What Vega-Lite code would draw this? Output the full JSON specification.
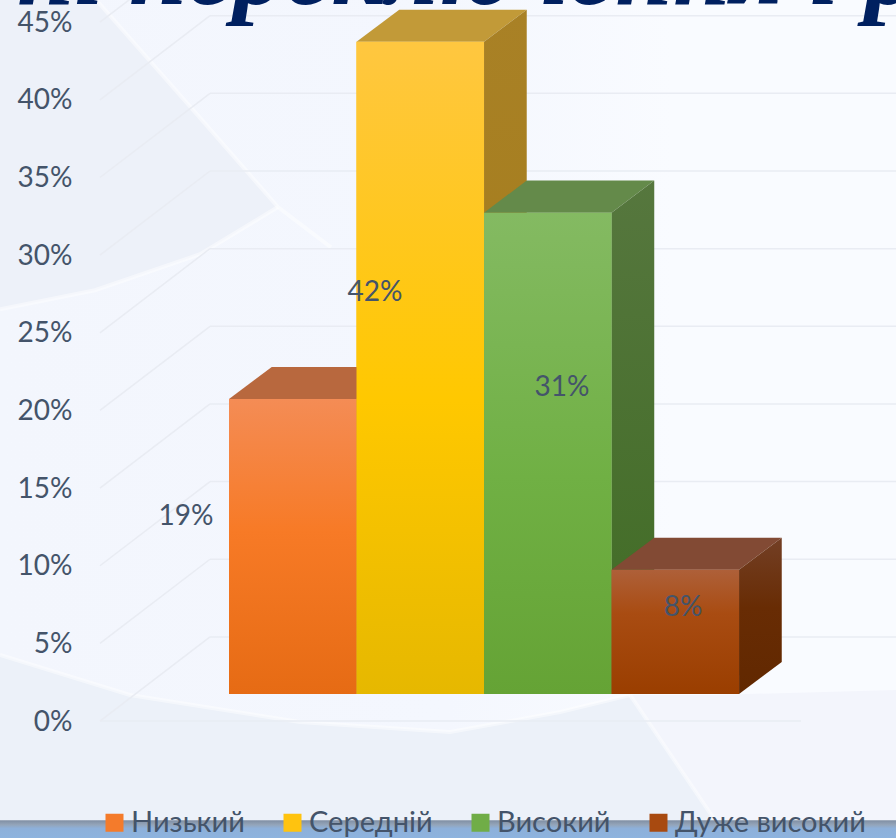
{"$schema":"https://vega.github.io/schema/vega-lite/v6.json","width":896,"height":838,"padding":0,"autosize":{"type":"none"},"background":"#F4F7FE","config":{"view":{"stroke":null},"font":"Lato"},
"datasets":{
"bars":[{"series":"Низький","pos":0,"end":1,"value":19,"base":0},{"series":"Середній","pos":1,"end":2,"value":42,"base":0},{"series":"Високий","pos":2,"end":3,"value":31,"base":0},{"series":"Дуже високий","pos":3,"end":4,"value":8,"base":0}],
"faces":[
{"series":"Низький","face":"side","pos":1,"value":19,"base":0},{"series":"Низький","face":"side","pos":1.335,"value":21.065,"base":2.065},
{"series":"Низький","face":"top","pos":0,"value":19,"base":19},{"series":"Низький","face":"top","pos":0.335,"value":21.065,"base":19},{"series":"Низький","face":"top","pos":1,"value":21.065,"base":19},{"series":"Низький","face":"top","pos":1.335,"value":21.065,"base":21.065},
{"series":"Середній","face":"side","pos":2,"value":42,"base":0},{"series":"Середній","face":"side","pos":2.335,"value":44.065,"base":2.065},
{"series":"Середній","face":"top","pos":1,"value":42,"base":42},{"series":"Середній","face":"top","pos":1.335,"value":44.065,"base":42},{"series":"Середній","face":"top","pos":2,"value":44.065,"base":42},{"series":"Середній","face":"top","pos":2.335,"value":44.065,"base":44.065},
{"series":"Високий","face":"side","pos":3,"value":31,"base":0},{"series":"Високий","face":"side","pos":3.335,"value":33.065,"base":2.065},
{"series":"Високий","face":"top","pos":2,"value":31,"base":31},{"series":"Високий","face":"top","pos":2.335,"value":33.065,"base":31},{"series":"Високий","face":"top","pos":3,"value":33.065,"base":31},{"series":"Високий","face":"top","pos":3.335,"value":33.065,"base":33.065},
{"series":"Дуже високий","face":"side","pos":4,"value":8,"base":0},{"series":"Дуже високий","face":"side","pos":4.335,"value":10.065,"base":2.065},
{"series":"Дуже високий","face":"top","pos":3,"value":8,"base":8},{"series":"Дуже високий","face":"top","pos":3.335,"value":10.065,"base":8},{"series":"Дуже високий","face":"top","pos":4,"value":10.065,"base":8},{"series":"Дуже високий","face":"top","pos":4.335,"value":10.065,"base":10.065}],
"grid":[
{"pos":-0.149,"end":5.231,"value":5.42,"base":5.42},{"pos":-0.149,"end":5.231,"value":10.42,"base":10.42},{"pos":-0.149,"end":5.231,"value":15.42,"base":15.42},{"pos":-0.149,"end":5.231,"value":20.42,"base":20.42},{"pos":-0.149,"end":5.231,"value":25.42,"base":25.42},{"pos":-0.149,"end":5.231,"value":30.42,"base":30.42},{"pos":-0.149,"end":5.231,"value":35.42,"base":35.42},{"pos":-0.149,"end":5.231,"value":40.42,"base":40.42},{"pos":-0.149,"end":5.231,"value":45.42,"base":45.42},
{"pos":-1.012,"end":-0.149,"value":0,"base":5.42},{"pos":-1.012,"end":-0.149,"value":5,"base":10.42},{"pos":-1.012,"end":-0.149,"value":10,"base":15.42},{"pos":-1.012,"end":-0.149,"value":15,"base":20.42},{"pos":-1.012,"end":-0.149,"value":20,"base":25.42},{"pos":-1.012,"end":-0.149,"value":25,"base":30.42},{"pos":-1.012,"end":-0.149,"value":30,"base":35.42},{"pos":-1.012,"end":-0.149,"value":35,"base":40.42},{"pos":-1.012,"end":-0.149,"value":40,"base":45.42},{"pos":-1.012,"end":-0.149,"value":45,"base":50.42},
{"pos":-1.012,"end":4.486,"value":0,"base":0}],
"bg":[
{"shape":"a","pos":-1.796,"value":46.52,"base":26.52},{"shape":"a","pos":-1.051,"value":46.52,"base":27.74},{"shape":"a","pos":-0.227,"value":38.84,"base":30.06},{"shape":"a","pos":0.384,"value":33.1,"base":33.1},
{"shape":"b","pos":-1.796,"value":4.26,"base":-6.39},{"shape":"b","pos":-0.776,"value":1.68,"base":-6.39},{"shape":"b","pos":0.557,"value":-0.06,"base":-6.39},{"shape":"b","pos":1.733,"value":-0.71,"base":-6.39},{"shape":"b","pos":2.596,"value":0.58,"base":-6.39},{"shape":"b","pos":3.145,"value":1.68,"base":-6.39},{"shape":"b","pos":3.812,"value":-6.39,"base":-6.39},
{"shape":"c","pos":3.145,"value":1.68,"base":1.68},{"shape":"c","pos":3.812,"value":1.68,"base":-6.39},{"shape":"c","pos":5.231,"value":2,"base":-6.39}],
"streaks":[
{"streak":"a","pos":-1.796,"value":26.52},{"streak":"a","pos":-1.051,"value":27.74},{"streak":"a","pos":-0.227,"value":30.06},{"streak":"a","pos":0.384,"value":33.1},
{"streak":"d","pos":-1.051,"value":46.52},{"streak":"d","pos":-0.227,"value":38.84},{"streak":"d","pos":0.384,"value":33.1},{"streak":"d","pos":0.8,"value":30.5},
{"streak":"b","pos":-1.796,"value":4.26},{"streak":"b","pos":-0.776,"value":1.68},{"streak":"b","pos":0.557,"value":-0.06},{"streak":"b","pos":1.733,"value":-0.71},{"streak":"b","pos":2.596,"value":0.58},{"streak":"b","pos":3.145,"value":1.68},
{"streak":"e","pos":3.145,"value":1.68},{"streak":"e","pos":3.812,"value":-6.39}],
"panels":[{"panel":"page","pos":-1.796,"end":5.231,"value":46.52,"base":-7.55},{"panel":"strip","pos":-1.796,"end":5.231,"value":-6.39,"base":-7.55}],
"labels":[{"label":"19%","pos":-0.337,"value":13.16},{"label":"42%","pos":1.145,"value":27.55},{"label":"31%","pos":2.612,"value":21.42},{"label":"8%","pos":3.561,"value":7.29}],
"heading":[{"label":"ні переключення і р","pos":-1.667,"value":46.17}]
},
"encoding":{
"x":{"field":"pos","type":"quantitative","scale":{"domain":[-1.796,5.231],"nice":false,"zero":false},"axis":null},
"y":{"field":"value","type":"quantitative","scale":{"domain":[-7.53,46.43],"nice":false,"zero":false},"axis":{"title":null,"values":[0,5,10,15,20,25,30,35,40,45],"labelExpr":"datum.value+'%'","offset":-80,"labelPadding":8,"domain":false,"ticks":false,"grid":false,"labelFont":"Lato","labelFontSize":28,"labelColor":"#44546A","labelOffset":1,"zindex":1}}},
"layer":[
{"data":{"name":"panels"},"transform":[{"filter":"datum.panel=='page'"}],"mark":{"type":"rect","fill":{"x1":0,"y1":0,"x2":1,"y2":0,"gradient":"linear","stops":[{"offset":0,"color":"#F3F6FD"},{"offset":0.5,"color":"#F4F7FE"},{"offset":0.75,"color":"#F9FBFF"},{"offset":1,"color":"#F9FBFF"}]}},"encoding":{"x2":{"field":"end"},"y2":{"field":"base"}}},
{"data":{"name":"bg"},"transform":[{"filter":"datum.shape=='a'"}],"mark":{"type":"area","orient":"vertical","fill":"#EDF1F9"},"encoding":{"y2":{"field":"base"}}},
{"data":{"name":"bg"},"transform":[{"filter":"datum.shape=='b'"}],"mark":{"type":"area","orient":"vertical","fill":"#ECF1F9"},"encoding":{"y2":{"field":"base"}}},
{"data":{"name":"bg"},"transform":[{"filter":"datum.shape=='c'"}],"mark":{"type":"area","orient":"vertical","fill":"#F3F5FC"},"encoding":{"y2":{"field":"base"}}},
{"data":{"name":"streaks"},"mark":{"type":"line","stroke":"#FFFFFF","strokeWidth":4,"opacity":0.45},"encoding":{"detail":{"field":"streak"},"order":{"field":"pos"}}},
{"data":{"name":"panels"},"transform":[{"filter":"datum.panel=='strip'"}],"mark":{"type":"rect","fill":{"x1":0,"y1":0,"x2":0,"y2":1,"gradient":"linear","stops":[{"offset":0,"color":"#7F8EA3"},{"offset":0.25,"color":"#94A5BA"},{"offset":0.45,"color":"#8DB0DA"},{"offset":1,"color":"#8DB3DE"}]}},"encoding":{"x2":{"field":"end"},"y2":{"field":"base"}}},
{"data":{"name":"grid"},"mark":{"type":"rule","stroke":"#E9ECF3","strokeWidth":1.5},"encoding":{"x2":{"field":"end"},"y2":{"field":"base"}}},
{"data":{"name":"heading"},"mark":{"type":"text","align":"left","baseline":"alphabetic","font":"Liberation Serif","fontStyle":"italic","fontWeight":"bold","fontSize":104,"fill":"#002060"},"encoding":{"text":{"field":"label"}}},
{"data":{"name":"bars"},"mark":{"type":"rect","yOffset":-27,"y2Offset":-27},"encoding":{"x2":{"field":"end"},"y2":{"field":"base"},"color":{"field":"series","type":"nominal","scale":{"domain":["Низький","Середній","Високий","Дуже високий"],"range":["#F47B2B","#FFC30F","#70AD47","#A84A10"]},"legend":{"title":null,"orient":"none","legendX":100,"legendY":808,"direction":"horizontal","columns":4,"symbolType":"square","symbolSize":324,"symbolStrokeWidth":0,"labelFont":"Lato","labelFontSize":29,"labelLimit":400,"labelColor":"#44546A","labelOffset":2,"columnPadding":33,"symbolOffset":0}}}},

{"data":{"name":"faces"},"transform":[{"filter":"datum.series=='Низький'&&datum.face=='top'"}],"mark":{"type":"area","orient":"vertical","yOffset":-27,"y2Offset":-27,"fill":"#B8683E"},"encoding":{"y2":{"field":"base"}}},
{"data":{"name":"faces"},"transform":[{"filter":"datum.series=='Низький'&&datum.face=='side'"}],"mark":{"type":"area","orient":"vertical","yOffset":-27,"y2Offset":-27,"fill":"#A85A2C"},"encoding":{"y2":{"field":"base"}}},
{"data":{"name":"bars"},"transform":[{"filter":"datum.series=='Низький'"}],"mark":{"type":"rect","yOffset":-27,"y2Offset":-27,"fill":{"x1":0,"y1":0,"x2":0,"y2":1,"gradient":"linear","stops":[{"offset":0,"color":"#F48C55"},{"offset":0.45,"color":"#F77A26"},{"offset":1,"color":"#E66B14"}]}},"encoding":{"x2":{"field":"end"},"y2":{"field":"base"}}},

{"data":{"name":"faces"},"transform":[{"filter":"datum.series=='Середній'&&datum.face=='top'"}],"mark":{"type":"area","orient":"vertical","yOffset":-27,"y2Offset":-27,"fill":"#C29A38"},"encoding":{"y2":{"field":"base"}}},
{"data":{"name":"faces"},"transform":[{"filter":"datum.series=='Середній'&&datum.face=='side'"}],"mark":{"type":"area","orient":"vertical","yOffset":-27,"y2Offset":-27,"fill":{"x1":0,"y1":0,"x2":0,"y2":1,"gradient":"linear","stops":[{"offset":0,"color":"#A98126"},{"offset":1,"color":"#A17A14"}]}},"encoding":{"y2":{"field":"base"}}},
{"data":{"name":"bars"},"transform":[{"filter":"datum.series=='Середній'"}],"mark":{"type":"rect","yOffset":-27,"y2Offset":-27,"fill":{"x1":0,"y1":0,"x2":0,"y2":1,"gradient":"linear","stops":[{"offset":0,"color":"#FFC740"},{"offset":0.55,"color":"#FFC800"},{"offset":1,"color":"#E6B800"}]}},"encoding":{"x2":{"field":"end"},"y2":{"field":"base"}}},

{"data":{"name":"faces"},"transform":[{"filter":"datum.series=='Високий'&&datum.face=='top'"}],"mark":{"type":"area","orient":"vertical","yOffset":-27,"y2Offset":-27,"fill":"#648A4A"},"encoding":{"y2":{"field":"base"}}},
{"data":{"name":"faces"},"transform":[{"filter":"datum.series=='Високий'&&datum.face=='side'"}],"mark":{"type":"area","orient":"vertical","yOffset":-27,"y2Offset":-27,"fill":{"x1":0,"y1":0,"x2":0,"y2":1,"gradient":"linear","stops":[{"offset":0,"color":"#56773E"},{"offset":1,"color":"#3F6B23"}]}},"encoding":{"y2":{"field":"base"}}},
{"data":{"name":"bars"},"transform":[{"filter":"datum.series=='Високий'"}],"mark":{"type":"rect","yOffset":-27,"y2Offset":-27,"fill":{"x1":0,"y1":0,"x2":0,"y2":1,"gradient":"linear","stops":[{"offset":0,"color":"#84BA62"},{"offset":0.55,"color":"#70B044"},{"offset":1,"color":"#65A335"}]}},"encoding":{"x2":{"field":"end"},"y2":{"field":"base"}}},

{"data":{"name":"faces"},"transform":[{"filter":"datum.series=='Дуже високий'&&datum.face=='top'"}],"mark":{"type":"area","orient":"vertical","yOffset":-27,"y2Offset":-27,"fill":"#824A34"},"encoding":{"y2":{"field":"base"}}},
{"data":{"name":"faces"},"transform":[{"filter":"datum.series=='Дуже високий'&&datum.face=='side'"}],"mark":{"type":"area","orient":"vertical","yOffset":-27,"y2Offset":-27,"fill":{"x1":0,"y1":0,"x2":0,"y2":1,"gradient":"linear","stops":[{"offset":0,"color":"#733F25"},{"offset":0.45,"color":"#682C04"},{"offset":1,"color":"#612800"}]}},"encoding":{"y2":{"field":"base"}}},
{"data":{"name":"bars"},"transform":[{"filter":"datum.series=='Дуже високий'"}],"mark":{"type":"rect","yOffset":-27,"y2Offset":-27,"fill":{"x1":0,"y1":0,"x2":0,"y2":1,"gradient":"linear","stops":[{"offset":0,"color":"#AE6039"},{"offset":0.35,"color":"#A94C12"},{"offset":1,"color":"#9A3E00"}]}},"encoding":{"x2":{"field":"end"},"y2":{"field":"base"}}},

{"data":{"name":"labels"},"mark":{"type":"text","align":"center","baseline":"middle","font":"Lato","fontSize":28,"fill":"#44546A"},"encoding":{"text":{"field":"label"}}}
]}
